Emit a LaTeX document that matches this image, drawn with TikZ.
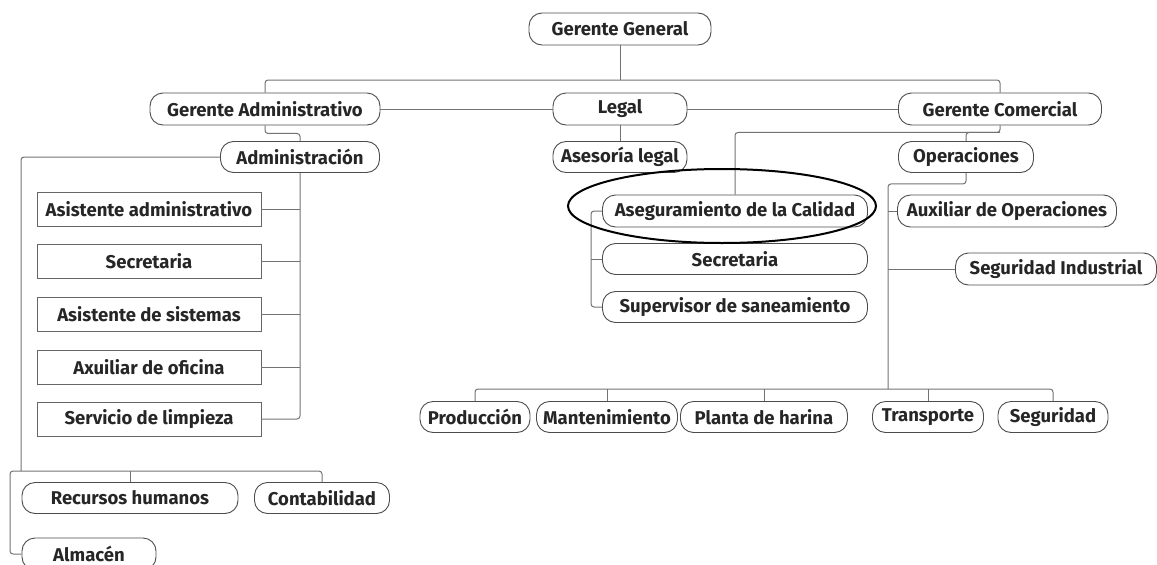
\documentclass[tikz,border=0pt]{standalone}
\usepackage{fontspec}
\setmainfont{Fira Sans}
\usetikzlibrary{calc}
\tikzset{
    box/.style={draw=black!70, line width=0.9pt, rounded corners=13pt, minimum height=32pt,
        inner sep=0pt, text=black!85, font=\fontsize{18.5}{21}\selectfont\bfseries},
    sqbox/.style={draw=black!60, line width=0.9pt, minimum height=34pt, minimum width=224pt,
        inner sep=0pt, text=black!85, font=\fontsize{18.5}{21}\selectfont\bfseries},
    link/.style={draw=black!55, line width=1pt, rounded corners=3pt}
}
\begin{document}
\begin{tikzpicture}[x=1pt, y=-1pt]
    \useasboundingbox (0,0) rectangle (1157,565);
    % top levels
    \node[box, minimum width=182pt] (gg) at (620,29) {Gerente General};
    \node[box, minimum width=230pt] (ga) at (265,109) {Gerente Administrativo};
    \node[box, minimum width=134pt] (legal) at (620,109) {Legal};
    \node[box, minimum width=203pt] (gc) at (1000,109) {Gerente Comercial};
    \node[box, minimum width=134pt, minimum height=31pt] (asesoria) at (620,157) {Asesoría legal};
    \node[box, minimum width=159pt, minimum height=31pt] (adm) at (300,157) {Administración};
    \node[box, minimum width=135pt, minimum height=31pt] (operac) at (966,157) {Operaciones};
    % administracion
    \node[sqbox] (asist) at (149,209) {Asistente administrativo};
    \node[sqbox] (secA) at (149,261) {Secretaria};
    \node[sqbox] (sist) at (149,314) {Asistente de sistemas};
    \node[sqbox] (ofic) at (149,367) {Axuiliar de oficina};
    \node[sqbox] (limp) at (149,419) {Servicio de limpieza};
    \node[box, minimum width=216pt, minimum height=31pt] (rrhh) at (130,498) {Recursos humanos};
    \node[box, minimum width=135pt, minimum height=31pt] (conta) at (322,498) {Contabilidad};
    \node[box, minimum width=134pt] (almacen) at (89,554) {Almacén};
    % calidad
    \node[box, minimum width=265pt] (asegur) at (735,211) {Aseguramiento de la Calidad};
    \node[box, minimum width=265pt, minimum height=31pt] (secQ) at (735,259) {Secretaria};
    \node[box, minimum width=265pt, minimum height=31pt] (superv) at (735,307) {Supervisor de saneamiento};
    % operaciones
    \node[box, minimum width=219pt] (auxop) at (1007,211) {Auxiliar de Operaciones};
    \node[box, minimum width=201pt] (segind) at (1056,269) {Seguridad Industrial};
    \node[box, minimum width=110pt, minimum height=31pt] (prod) at (475,417) {Producción};
    \node[box, minimum width=141pt, minimum height=31pt] (mant) at (607,417) {Mantenimiento};
    \node[box, minimum width=167pt, minimum height=31pt] (planta) at (764,417) {Planta de harina};
    \node[box, minimum width=111pt, minimum height=31pt] (transp) at (928,417) {Transporte};
    \node[box, minimum width=110pt, minimum height=31pt] (segur) at (1053,417) {Seguridad};

    \coordinate (top) at (620,80);
    \coordinate (hr) at (21,471);
    \coordinate (hl) at (10,471);
    \coordinate (ov) at (888,389);

    \draw[link] (gg.south) -- (top);
    \draw[link] (ga.north) |- (top) -| (gc.north);
    \draw[link] (ga.east) -- (legal.west);
    \draw[link] (legal.east) -- (gc.west);
    \draw[link] (legal.south) -- (asesoria.north);
    \draw[link] (ga.south) -- ++(0,8) -| (adm.north);
    \draw[link] (gc.south) -- ++(0,7) coordinate (gcb) -| (asegur.north);
    \draw[link] (gcb) -| (operac.north);

    % administracion
    \draw[link] (adm.south) |- (limp.east);
    \foreach \n in {asist,secA,sist,ofic}
        \draw[link] (\n.east) -- (\n.east -| adm.south);
    \draw[link] (adm.west) -| (hr);
    \draw[link] (conta.north) |- (hl) |- (almacen.west);
    \draw[link] (rrhh.north) -- (rrhh.north |- hl);

    % calidad
    \draw[link] (asegur.west) -- ++(-11,0) |- (superv.west);
    \draw[link] (secQ.west) -- ++(-11,0);
    \draw[line width=2pt] (722,206) ellipse (154 and 37);

    % operaciones
    \draw[link] (operac.south) -- ++(0,11) -| (ov);
    \draw[link] (auxop.west) -- (auxop.west -| ov);
    \draw[link] (segind.west) -- (segind.west -| ov);
    \draw[link] (prod.north) |- (ov) -| (segur.north);
    \foreach \n in {mant,planta,transp}
        \draw[link] (\n.north) -- (\n.north |- ov);
\end{tikzpicture}
\end{document}
